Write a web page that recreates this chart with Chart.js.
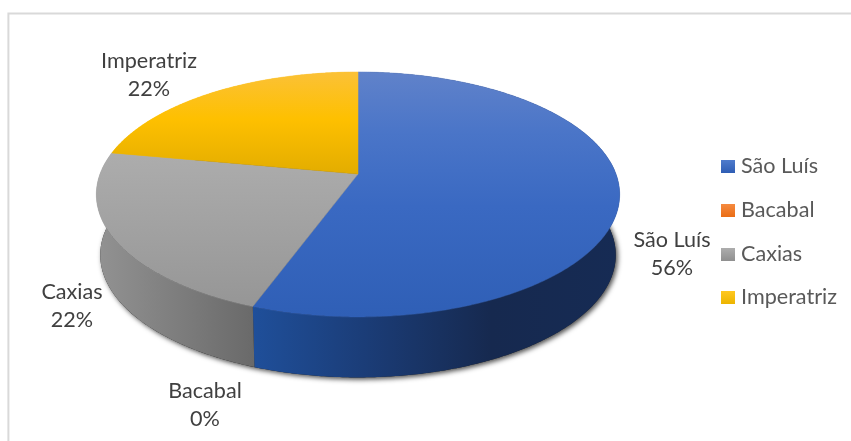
<!DOCTYPE html>
<html lang="pt">
<head>
  <meta charset="UTF-8">
  <title>Distribuição por cidade</title>
  <style>
    body { margin: 0; background: #fff; overflow: hidden; }
    canvas { display: block; }
  </style>
</head>
<body>
  <canvas id="grafico" width="851" height="441"></canvas>

  <script src="https://cdn.jsdelivr.net/npm/chart.js"></script>
  <script>
    const cidades = ['São Luís', 'Bacabal', 'Caxias', 'Imperatriz'];
    const valores = [56, 0, 22, 22];
    const coresBase = ['#4472c4', '#ed7d31', '#a5a5a5', '#ffc000'];

    // perspective of the disc: centre of the wedges, radius, tilt
    const CX = 358, APEX_Y = 174, RAIO = 258, ALTURA = 90, TILT = -0.167;
    // thickness of the disc
    const PROFUNDIDADE = 60.5, ESCALA_BASE = 0.985;
    const PASSO = Math.PI / 360;
    // slight foreshortening of the angles towards the front-left of the disc
    const AJUSTE = 1.6 * Math.PI / 180;

    // top rim point for an arc angle
    function borda(ang) {
      const t = ang + Math.PI / 2;
      const k = (1 - Math.cos(t)) / 2;
      const a = ang - AJUSTE * k * k;
      const u = Math.cos(a), v = Math.sin(a), w = 1 + TILT * v;
      return [CX + RAIO * u / w, (ALTURA * v + APEX_Y) / w];
    }
    // same angle on the bottom rim
    function base(ang) {
      const p = borda(ang);
      return [CX + (p[0] - CX) * ESCALA_BASE, p[1] + PROFUNDIDADE];
    }
    function angulos(ini, fim) {
      const lista = [];
      for (let a = ini; a < fim; a += PASSO) lista.push(a);
      lista.push(fim);
      return lista;
    }
    function gradiente(ctx, x0, y0, x1, y1, paradas) {
      const g = ctx.createLinearGradient(x0, y0, x1, y1);
      paradas.forEach(p => g.addColorStop(p[0], p[1]));
      return g;
    }

    const pizza3d = {
      id: 'pizza3d',
      beforeDraw(chart) {
        // chart frame, open on the right and at the bottom
        const ctx = chart.ctx;
        ctx.save();
        ctx.strokeStyle = '#d9d9d9';
        ctx.lineWidth = 2;
        ctx.beginPath();
        ctx.moveTo(8.4, 441);
        ctx.lineTo(8.4, 13.4);
        ctx.lineTo(851, 13.4);
        ctx.stroke();
        ctx.restore();
      },
      beforeDatasetsDraw(chart) {
        const ctx = chart.ctx;
        const arcos = chart.getDatasetMeta(0).data;
        const topo = [
          gradiente(ctx, 0, 72, 0, 317, [[0, '#6082ca'], [0.25, '#4a75c8'], [0.55, '#3a69c2'], [1, '#2f5fb6']]),
          coresBase[1],
          gradiente(ctx, 0, 150, 0, 306, [[0, '#adadad'], [1, '#969696']]),
          gradiente(ctx, 0, 72, 0, 176, [[0, '#fbc137'], [0.45, '#fec000'], [1, '#e2ac00']])
        ];
        const lateral = [
          gradiente(ctx, 253, 0, 620, 0, [[0, '#1f4f9a'], [0.3, '#1b3d78'], [0.65, '#16294f'], [1, '#162b54']]),
          coresBase[1],
          gradiente(ctx, 98, 0, 256, 0, [[0, '#929292'], [1, '#696969']]),
          coresBase[3]
        ];

        ctx.save();
        // soft shadow under the disc
        ctx.save();
        ctx.shadowColor = 'rgba(0,0,0,0.7)';
        ctx.shadowBlur = 5;
        ctx.shadowOffsetX = 2;
        ctx.shadowOffsetY = 2;
        ctx.fillStyle = '#222';
        ctx.beginPath();
        angulos(0, Math.PI * 2).forEach(a => { const p = base(a); ctx.lineTo(p[0], p[1]); });
        ctx.closePath();
        ctx.fill();
        ctx.restore();

        // side wall of each slice
        arcos.forEach((arco, i) => {
          if (arco.endAngle - arco.startAngle <= 0) return;
          const lista = angulos(arco.startAngle, arco.endAngle);
          ctx.beginPath();
          lista.forEach(a => { const p = borda(a); ctx.lineTo(p[0], p[1]); });
          lista.slice().reverse().forEach(a => { const p = base(a); ctx.lineTo(p[0], p[1]); });
          ctx.closePath();
          ctx.fillStyle = lateral[i];
          ctx.fill();
        });

        // top face of each slice
        arcos.forEach((arco, i) => {
          if (arco.endAngle - arco.startAngle <= 0) return;
          ctx.beginPath();
          ctx.moveTo(CX, APEX_Y);
          angulos(arco.startAngle, arco.endAngle).forEach(a => { const p = borda(a); ctx.lineTo(p[0], p[1]); });
          ctx.closePath();
          ctx.fillStyle = topo[i];
          ctx.strokeStyle = topo[i];
          ctx.lineWidth = 0.5;
          ctx.fill();
          ctx.stroke();
        });
        ctx.restore();
        return false;
      },
      afterDraw(chart) {
        const ctx = chart.ctx;
        ctx.save();
        ctx.textBaseline = 'middle';

        // slice labels
        const rotulosX = [672, 205, 72, 149];
        const rotulosY = [240, 391, 292, 61];
        ctx.font = '21.6px Lato';
        ctx.fillStyle = '#404040';
        ctx.textAlign = 'center';
        cidades.forEach((nome, i) => {
          ctx.fillText(nome, rotulosX[i], rotulosY[i]);
          ctx.fillText(valores[i] + '%', rotulosX[i], rotulosY[i] + 28);
        });

        // legend
        const legendaY = [160, 204, 248, 291];
        const amostras = [['#4f7bcc', '#2e5db4'], ['#f58a3f', '#ea6d15'], ['#adadad', '#8f8f8f'], ['#ffc820', '#ecb400']];
        ctx.textAlign = 'left';
        ctx.fillStyle = '#595959';
        cidades.forEach((nome, i) => {
          const y = legendaY[i];
          ctx.save();
          ctx.fillStyle = gradiente(ctx, 0, y, 0, y + 13, [[0, amostras[i][0]], [1, amostras[i][1]]]);
          ctx.fillRect(721, y, 14, 13);
          ctx.restore();
          ctx.fillText(nome, 741, y + 6);
        });
        ctx.restore();
      }
    };

    new Chart(document.getElementById('grafico'), {
      type: 'pie',
      data: {
        labels: cidades,
        datasets: [{ data: valores, backgroundColor: coresBase }]
      },
      options: {
        responsive: false,
        animation: false,
        plugins: {
          legend: { display: false },
          tooltip: { enabled: false }
        }
      },
      plugins: [pizza3d]
    });
  </script>
</body>
</html>
